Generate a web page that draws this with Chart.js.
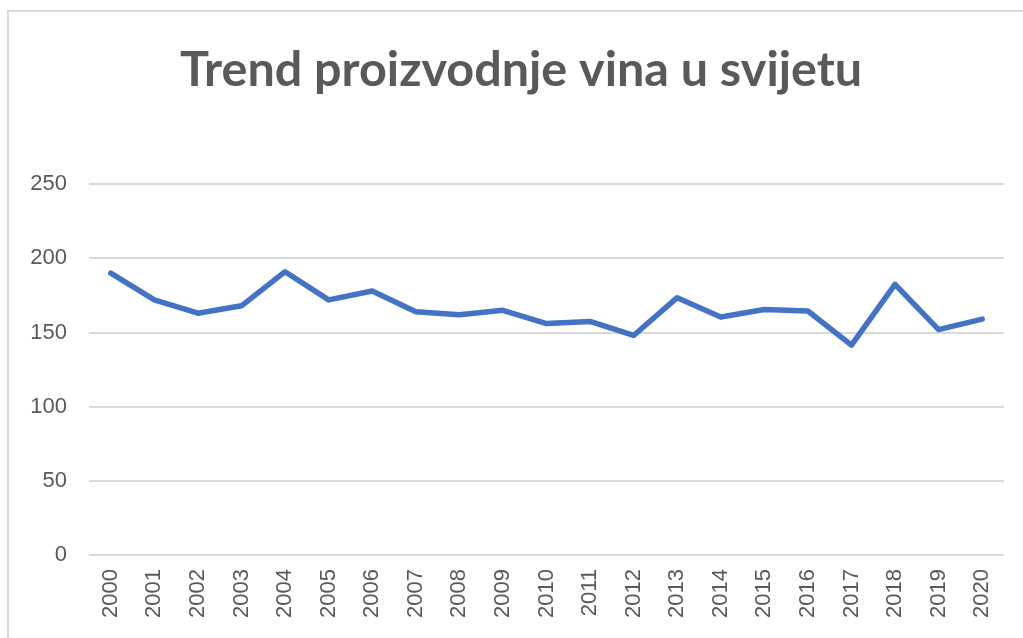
<!DOCTYPE html>
<html>
<head>
<meta charset="utf-8">
<script src="https://cdn.jsdelivr.net/npm/chart.js@4.4.1/dist/chart.umd.min.js"></script>
<style>
  html, body { margin: 0; padding: 0; background: #ffffff; overflow: hidden; }
  #wrap { position: absolute; left: 0; top: 0; width: 1023px; height: 638px; }
  #frame { position: absolute; left: 7px; top: 10px; width: 1100px; height: 700px;
           border-left: 2px solid #d9d9d9; border-top: 2px solid #d9d9d9; pointer-events: none; }
</style>
</head>
<body>
<div id="wrap"><canvas id="c" width="1023" height="638"></canvas></div>
<div id="frame"></div>
<script>
const titleText = "Trend proizvodnje vina u svijetu";
const years = ["2000","2001","2002","2003","2004","2005","2006","2007","2008","2009","2010",
               "2011","2012","2013","2014","2015","2016","2017","2018","2019","2020"];
const production = [190, 172, 163, 168, 191, 172, 178, 164, 162, 165, 156,
                    157.5, 148, 173.5, 160.5, 165.5, 164.5, 141.5, 182.5, 152, 159];
const yMin = 0, yMax = 250, yStep = 50;

const textColor = "#595959";
const gridColor = "#d9d9d9";
const lineColor = "#4472C4";

// shifts the centred title box slightly right, like the original frame
const titleShift = {
  id: "titleShift",
  afterLayout(chart) {
    if (chart.titleBlock) { chart.titleBlock.left += 17; }
  }
};

new Chart(document.getElementById("c"), {
  type: "line",
  data: {
    labels: years,
    datasets: [{
      data: production,
      borderColor: lineColor,
      backgroundColor: lineColor,
      borderWidth: 5.5,
      pointRadius: 0,
      pointHoverRadius: 0,
      tension: 0,
      borderCapStyle: "round",
      borderJoinStyle: "round",
      fill: false
    }]
  },
  plugins: [titleShift],
  options: {
    responsive: false,
    animation: false,
    devicePixelRatio: 1,
    layout: { padding: { left: 20, right: 18, top: 0, bottom: 0 } },
    plugins: {
      legend: { display: false },
      tooltip: { enabled: false },
      title: {
        display: true,
        text: titleText,
        color: textColor,
        font: { family: "Lato, 'Open Sans', sans-serif", size: 48.5, weight: "bold" },
        padding: { top: 41, bottom: 85 }
      }
    },
    scales: {
      x: {
        offset: true,
        grid: { display: false, drawTicks: false },
        border: { display: false },
        ticks: {
          color: textColor,
          font: { family: "'Liberation Sans', Arial, sans-serif", size: 22 },
          maxRotation: 90, minRotation: 90,
          padding: 14,
          autoSkip: false
        },
        afterFit: (s) => { s.height = 83; }
      },
      y: {
        min: yMin, max: yMax,
        grid: { color: gridColor, lineWidth: 2, drawTicks: false },
        border: { display: false },
        ticks: {
          stepSize: yStep,
          color: textColor,
          font: { family: "'Liberation Sans', Arial, sans-serif", size: 22 },
          padding: 22
        },
        afterFit: (s) => { s.width = 69; }
      }
    }
  }
});
</script>
</body>
</html>
